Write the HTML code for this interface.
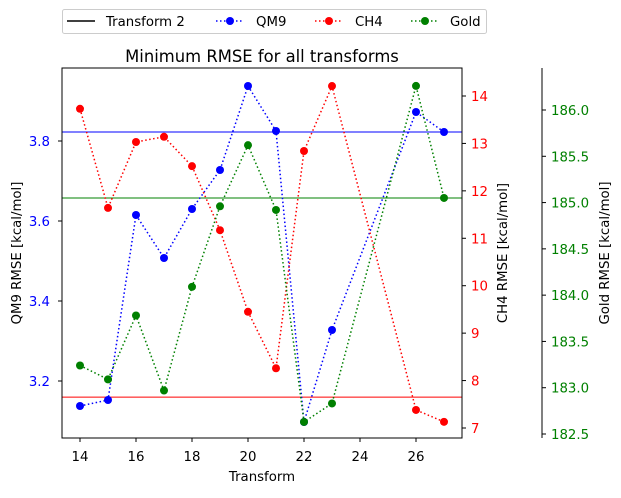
<!DOCTYPE html>
<html><head><meta charset="utf-8"><style>
body{margin:0;background:#fff;font-family:"Liberation Sans","DejaVu Sans",sans-serif;}
svg text{font-family:"DejaVu Sans","Liberation Sans",sans-serif;}
</style></head><body>
<svg id="c" width="621" height="493" xmlns="http://www.w3.org/2000/svg"></svg>
<script>
const transforms=[14,15,16,17,18,19,20,21,22,23,26,27];
const qm9=[3.1375,3.1525,3.615,3.5075,3.63,3.7275,3.9375,3.825,3.0975,3.3275,3.8725,3.8225];
const ch4=[13.73,11.64,13.03,13.14,12.52,11.17,9.45,8.26,12.84,14.21,7.38,7.13];
const gold=[183.24,183.09,183.78,182.97,184.09,184.96,185.62,184.92,182.63,182.83,186.26,185.05];
const qm9Min=3.8225, ch4Min=7.65, goldMin=185.05;
const xTicks=[14,16,18,20,22,24,26];
const qTicks=[3.2,3.4,3.6,3.8];
const cTicks=[7,8,9,10,11,12,13,14];
const gTicks=[182.5,183.0,183.5,184.0,184.5,185.0,185.5,186.0];
const L=62,R=462,T=68,B=438;
const FS=13.3;
const X=v=>80+(v-14)*28;
const YQ=v=>381-(v-3.2)*400;
const YC=v=>428-(v-7)*47.43;
const YG=v=>434-(v-182.5)*92.57;
const svg=document.getElementById('c');
const NS='http://www.w3.org/2000/svg';
function el(t,a,p){const e=document.createElementNS(NS,t);for(const k in a)e.setAttribute(k,a[k]);(p||svg).appendChild(e);return e;}
function txt(s,a){const e=el('text',a);e.textContent=s;return e;}
let h;
h=el('line',{x1:L,x2:R,y1:YQ(qm9Min),y2:YQ(qm9Min),stroke:'blue','stroke-width':1});


h=el('line',{x1:L,x2:R,y1:YC(ch4Min),y2:YC(ch4Min),stroke:'red','stroke-width':1});


h=el('line',{x1:L,x2:R,y1:YG(goldMin),y2:YG(goldMin),stroke:'green','stroke-width':1});


function series(vals,Y,color,name){
  const p=el('polyline',{points:transforms.map((t,i)=>X(t)+','+Y(vals[i])).join(' '),fill:'none',stroke:color,'stroke-width':1.5,'stroke-dasharray':'1.5,2.5'});
  
  
  transforms.forEach((t,i)=>{const c=el('circle',{cx:X(t),cy:Y(vals[i]),r:4,fill:color});
    
    });
}
series(qm9,YQ,'blue','qm9');
series(ch4,YC,'red','ch4');
series(gold,YG,'green','gold');
const f=el('rect',{x:L,y:T,width:R-L,height:B-T,fill:'none',stroke:'#000','stroke-width':1});


xTicks.forEach(v=>{el('line',{x1:X(v),x2:X(v),y1:B,y2:B+4,stroke:'#000'});
  const t=txt(v,{x:X(v),y:B+23,'text-anchor':'middle','font-size':FS});
  
  });
qTicks.forEach(v=>{el('line',{x1:L-4,x2:L,y1:YQ(v),y2:YQ(v),stroke:'#000'});
  const t=txt(v.toFixed(1),{x:L-12,y:YQ(v)+5,'text-anchor':'end','font-size':FS,fill:'blue'});
  
  });
cTicks.forEach(v=>{el('line',{x1:R,x2:R+4,y1:YC(v),y2:YC(v),stroke:'#000'});
  const t=txt(v,{x:R+9,y:YC(v)+5,'font-size':FS,fill:'red'});
  
  });
el('line',{x1:542,x2:542,y1:T,y2:B,stroke:'#000'});
gTicks.forEach(v=>{el('line',{x1:542,x2:546,y1:YG(v),y2:YG(v),stroke:'#000'});
  const t=txt(v.toFixed(1),{x:551,y:YG(v)+5,'font-size':FS,fill:'green'});
  
  });
let t;
t=txt('Transform',{x:262,y:481,'text-anchor':'middle','font-size':FS});

t=txt('QM9 RMSE [kcal/mol]',{x:0,y:0,'text-anchor':'middle','font-size':FS,transform:'translate(21,253) rotate(-90)'});

t=txt('CH4 RMSE [kcal/mol]',{x:0,y:0,'text-anchor':'middle','font-size':FS,transform:'translate(507,253) rotate(-90)'});

t=txt('Gold RMSE [kcal/mol]',{x:0,y:0,'text-anchor':'middle','font-size':FS,transform:'translate(609,253) rotate(-90)'});

t=txt('Minimum RMSE for all transforms',{x:262,y:62,'text-anchor':'middle','font-size':16.4});

const lg=el('rect',{x:62.5,y:9.5,width:424,height:24,fill:'#fff',stroke:'#ccc',rx:2});

const items=[['Transform 2','#000',false,67,106],['QM9','blue',true,216,256],['CH4','red',true,315,355],['Gold','green',true,411,450]];
items.forEach(([n,c,d,x,tx])=>{
  el('line',{x1:x,x2:x+28,y1:21,y2:21,stroke:c,'stroke-width':1.5,'stroke-dasharray':d?'1.5,2.5':'none'});
  if(d)el('circle',{cx:x+14,cy:21,r:4,fill:c});
  const e=txt(n,{x:tx,y:26,'font-size':FS});
  
  
});
</script>
</body></html>
